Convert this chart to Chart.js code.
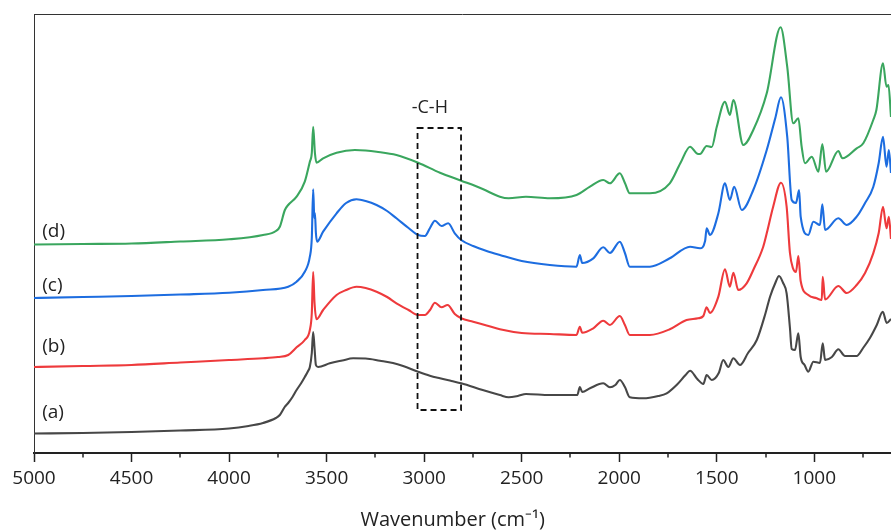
<!DOCTYPE html>
<html><head><meta charset="utf-8">
<script src="https://cdn.jsdelivr.net/npm/chart.js@4.4.1/dist/chart.umd.min.js"></script>
<style>html,body{margin:0;padding:0;background:#fff;}canvas{display:block;}</style>
</head><body>
<canvas id="c" width="891" height="530"></canvas>
<script>
// ---- data (wavenumber in cm-1, intensity in arbitrary stacked units) ----
const seriesNames = ['(a)', '(b)', '(c)', '(d)'];

const waveA = [5000,4750,4500,4250,4000,3900,3826,3760,3740,3715,3697,3675,3654,3630,3612,3595,3586,3576,3569,3562,3555,3544,3484,3420,3364,3300,3227,3160,3108,3031,2971,2919,2860,2810,2700,2612,2567,2520,2478,2356,2215,2202,2190,2150,2082,2048,2020,1997,1971,1946,1877,1800,1757,1706,1660,1637,1600,1569,1552,1526,1490,1467,1441,1415,1381,1340,1295,1250,1227,1200,1181,1160,1142,1125,1116,1099,1082,1070,1050,1031,1005,971,957,945,910,877,843,783,750,715,680,649,629,607];
const valA  = [19.5,20,21,22.5,24.5,27,30,35,38,46,50,56,63,70,76,82,86,100,121,105,88,86,89.7,92.5,94.7,94.5,92.3,90,87,81.3,77.3,74.7,72,69.7,63,58,55.7,57,59,58,58,66,61,64.7,69.7,65.7,68,73,66,55.7,54.7,57,59.7,68,78,82.3,74,69,78,73,80,93,86,94.7,88,100,113,140,156.3,170,177,170,159.7,125,104,103,119.7,96,88,81.3,91.3,90,109.7,93,96,103.7,97,97,105,115,128,141.3,130,134];

const waveB = [5000,4750,4500,4250,4000,3826,3750,3697,3654,3612,3586,3576,3569,3562,3552,3518,3449,3400,3347,3300,3244,3190,3142,3080,3031,2996,2970,2945,2911,2880,2843,2810,2749,2680,2612,2500,2356,2219,2202,2190,2133,2082,2048,1997,1971,1946,1843,1741,1655,1596,1569,1552,1535,1492,1458,1433,1415,1390,1347,1313,1262,1244,1211,1171,1142,1125,1110,1094,1082,1070,1031,988,962,957,945,877,834,783,740,698,670,648,630,618,607];
const valB  = [86,87,88,90.5,93,94.7,96,98,105.7,113,123,140,181,150,133.7,143,158,163,166.3,165,161.3,156,149.7,143,138,138,143,150.3,145.7,148,139,134.7,131.3,127.5,123.7,120,119,118,126.3,120.3,124.7,132.3,128,137,128,118,118,123.7,133,134.7,137,145.7,140,156.3,183.7,166.3,180.3,163,169.7,183,206.3,219.7,246.3,270.3,246.3,200,185,181,197,172,158,154.7,153,176.3,153.5,167,160,168,180,199.7,220,246.3,224.7,236.3,214];

const waveC = [5000,4750,4500,4250,4000,3826,3697,3654,3612,3586,3576,3569,3563,3560,3555,3549,3518,3449,3400,3347,3300,3244,3190,3142,3080,3031,2996,2970,2945,2911,2877,2843,2810,2749,2680,2612,2500,2356,2219,2202,2190,2133,2082,2048,1997,1971,1946,1843,1741,1637,1586,1560,1552,1535,1492,1458,1433,1411,1372,1313,1244,1200,1171,1139,1116,1094,1078,1070,1031,1005,971,959,945,877,834,783,740,698,670,648,630,618,607];
const valC  = [155,156,157,158.5,160.3,163,166.3,171.3,181.3,196.3,215,263.7,235,240,220,211.3,221.3,239.7,250,253.7,252,248,242,234.7,225,218,217,225,232.3,227,229.7,219.7,213,207,202,198,192,188,186.3,198,190,194.7,205.7,200,211.3,200,186.3,186.3,194.7,206.3,204.7,212,224.7,218,239.7,269.7,253,266.3,243,263,303,335,355.7,316.3,253,250,263,236.3,218,231.3,228,248.7,223,234.7,228,236.3,250,266,290,316.3,286.3,303,280];

const waveD = [5000,4750,4500,4250,4000,3826,3760,3740,3714,3697,3654,3612,3586,3576,3569,3560,3552,3518,3449,3355,3300,3244,3142,3031,2919,2810,2700,2612,2567,2478,2356,2219,2150,2082,2048,1997,1971,1946,1843,1741,1687,1637,1603,1586,1552,1526,1500,1458,1433,1415,1364,1313,1244,1173,1139,1108,1082,1065,1048,1013,979,959,940,877,856,783,749,698,682,648,630,620,607];
const valD  = [208.5,209,209.5,211.5,213.7,218,222,226.3,243,248,256.3,271.3,291.3,300,326.3,300,290.3,294.7,300.3,303,302.5,301.3,298,290.3,280.3,272.3,264,256.3,254.7,256.3,254.7,258,266.3,273,269.7,279.7,270,259.7,259.7,269.7,289.7,306.3,299.7,299,307,306,326.3,351.3,338,353,308,323,359.7,425.7,386.3,329.7,334.7,306.3,289.7,296.3,281.3,309,281.3,302,294.7,304.7,309.7,333,343,389.7,366.3,368,336];

const xTickValues  = [5000,4500,4000,3500,3000,2500,2000,1500,1000];
const xMinorValues = [4750,4250,3750,3250,2750,2250,1750,1250,750];
const xTitleText = 'Wavenumber (cm\u207B\u00B9)';
const bandText = '-C-H';
const bandWave = [3034, 2811];      // dashed box span (cm-1)
const bandLevel = [43, 325];        // dashed box bottom / top (intensity units)

// ---- styles / annotation placement (not data) ----
const colors = ['#474747', '#ee3a3c', '#1d6de0', '#3aa65e'];
const labelAnchor = { wave: 4958, levels: [40, 106, 167, 221.3] };
const bandTextAnchor = { wave: 2971, level: 345.5 };
const titlePlacement = { xFrac: 0.489, fromBottom: 10 };
const FONT = "'Open Sans', 'Liberation Sans', sans-serif";

const waves = [waveA, waveB, waveC, waveD];
const vals = [valA, valB, valC, valD];
const datasets = seriesNames.map((name, i) => ({
  label: name,
  data: waves[i].map((w, k) => ({ x: w, y: vals[i][k] })),
  borderColor: colors[i],
  borderWidth: 2.1,
  pointRadius: 0,
  fill: false,
  cubicInterpolationMode: 'monotone'
}));

const decor = {
  id: 'decor',
  afterDatasetsDraw(chart) {
    const { ctx, chartArea, scales: { x, y } } = chart;
    ctx.save();
    // top frame line
    ctx.strokeStyle = '#333';
    ctx.lineWidth = 1;
    ctx.beginPath();
    ctx.moveTo(chartArea.left, chartArea.top + 0.5);
    ctx.lineTo(chartArea.right, chartArea.top + 0.5);
    ctx.stroke();
    // minor ticks
    ctx.strokeStyle = '#222';
    ctx.lineWidth = 1.5;
    xMinorValues.forEach(v => {
      const px = Math.round(x.getPixelForValue(v));
      ctx.beginPath();
      ctx.moveTo(px, chartArea.bottom);
      ctx.lineTo(px, chartArea.bottom + 4.5);
      ctx.stroke();
    });
    // dashed box
    const bx1 = x.getPixelForValue(bandWave[0]);
    const bx2 = x.getPixelForValue(bandWave[1]);
    const by1 = y.getPixelForValue(bandLevel[1]);
    const by2 = y.getPixelForValue(bandLevel[0]);
    ctx.setLineDash([6, 4]);
    ctx.lineWidth = 1.8;
    ctx.strokeStyle = '#111';
    ctx.strokeRect(bx1, by1, bx2 - bx1, by2 - by1);
    ctx.setLineDash([]);
    // texts
    ctx.fillStyle = '#222';
    ctx.textBaseline = 'middle';
    ctx.font = '19px ' + FONT;
    ctx.textAlign = 'left';
    seriesNames.forEach((n, i) => {
      ctx.fillText(n, x.getPixelForValue(labelAnchor.wave), y.getPixelForValue(labelAnchor.levels[i]));
    });
    ctx.font = '18px ' + FONT;
    ctx.textAlign = 'center';
    ctx.fillText(bandText, x.getPixelForValue(bandTextAnchor.wave), y.getPixelForValue(bandTextAnchor.level));
    // axis title
    ctx.font = '20px ' + FONT;
    ctx.fillText(xTitleText, chart.width * titlePlacement.xFrac + 17, chart.height - titlePlacement.fromBottom);
    ctx.restore();
  }
};

new Chart(document.getElementById('c'), {
  type: 'line',
  data: { datasets },
  options: {
    responsive: false,
    devicePixelRatio: 1,
    animation: false,
    layout: { padding: { left: 34, top: 14, right: 0, bottom: 0 } },
    plugins: { legend: { display: false }, tooltip: { enabled: false } },
    scales: {
      x: {
        type: 'linear',
        reverse: true,
        min: 607,
        max: 5000,
        afterBuildTicks: s => { s.ticks = xTickValues.map(v => ({ value: v })); },
        afterFit: s => { s.height = 77; },
        ticks: {
          autoSkip: false, maxRotation: 0, padding: 5,
          color: '#222', font: { family: FONT, size: 19 },
          callback: v => String(v)
        },
        grid: { display: true, drawOnChartArea: false, drawTicks: true, tickLength: 9, tickWidth: 1.5, tickColor: '#222', color: '#222' },
        border: { display: true, width: 2, color: '#222' },
        title: { display: false }
      },
      y: {
        min: 0,
        max: 439,
        afterFit: s => { s.width = 0; },
        ticks: { display: false },
        grid: { display: false },
        border: { display: true, width: 1, color: '#333' }
      }
    }
  },
  plugins: [decor]
});
</script>
</body></html>
